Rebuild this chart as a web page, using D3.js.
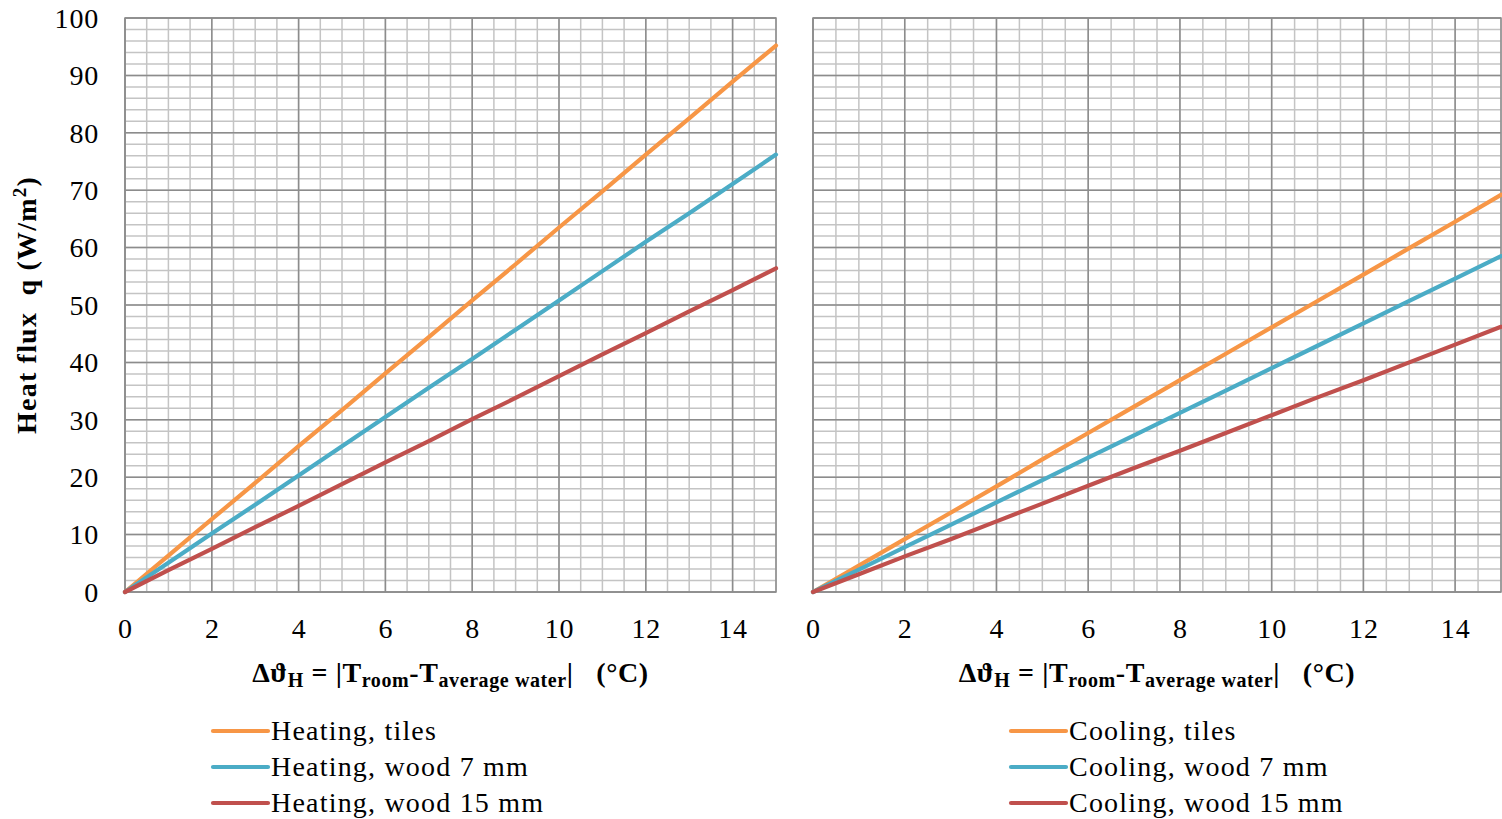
<!DOCTYPE html>
<html>
<head>
<meta charset="utf-8">
<script src="https://cdn.jsdelivr.net/npm/d3@7"></script>
<style>
  html, body { margin: 0; padding: 0; background: #fff; }
  svg { display: block; }
  text { font-family: "Liberation Serif", "DejaVu Serif", serif; fill: #000; }
</style>
</head>
<body>
<svg id="chart" width="1502" height="819"></svg>
<script>
// Temperature difference (°C)
const deltaT = [0, 1, 2, 3, 4, 5, 6, 7, 8, 9, 10, 11, 12, 13, 14, 15];

// Heating heat flux (W/m²)
const heatingTiles  = [0, 6.35, 12.7, 19.0, 25.4, 31.7, 38.1, 44.4, 50.8, 57.1, 63.5, 69.8, 76.2, 82.5, 88.9, 95.2];
const heatingWood7  = [0, 5.1, 10.2, 15.2, 20.3, 25.4, 30.5, 35.6, 40.6, 45.7, 50.8, 55.9, 61.0, 66.0, 71.1, 76.2];
const heatingWood15 = [0, 3.8, 7.5, 11.3, 15.0, 18.8, 22.6, 26.3, 30.1, 33.8, 37.6, 41.4, 45.1, 48.9, 52.6, 56.4];

// Cooling heat flux (W/m²)
const coolingTiles  = [0, 4.6, 9.2, 13.8, 18.4, 23.1, 27.7, 32.3, 36.9, 41.5, 46.1, 50.7, 55.3, 59.9, 64.5, 69.2];
const coolingWood7  = [0, 3.9, 7.8, 11.7, 15.6, 19.5, 23.4, 27.3, 31.2, 35.1, 39.0, 42.9, 46.8, 50.7, 54.6, 58.5];
const coolingWood15 = [0, 3.1, 6.2, 9.2, 12.3, 15.4, 18.5, 21.6, 24.6, 27.7, 30.8, 33.9, 36.9, 40.0, 43.1, 46.2];

const heatingNames = ["Heating, tiles", "Heating, wood 7 mm", "Heating, wood 15 mm"];
const coolingNames = ["Cooling, tiles", "Cooling, wood 7 mm", "Cooling, wood 15 mm"];

const xTicks = [0, 2, 4, 6, 8, 10, 12, 14];
const yTicks = [0, 10, 20, 30, 40, 50, 60, 70, 80, 90, 100];

const colors = ["#F79646", "#4BACC6", "#C0504D"];

const svg = d3.select("#chart");

const plotTop = 18, plotBottom = 592;
const y = d3.scaleLinear().domain([0, 100]).range([plotBottom, plotTop]);

function drawPanel(left, right, seriesList, names, legendX, showYAxis) {
  const x = d3.scaleLinear().domain([0, 15]).range([left, right]);
  const g = svg.append("g");

  // minor grid
  const minorX = d3.range(0, 15.01, 0.5);
  const minorY = d3.range(0, 100.01, 2);
  g.selectAll(".mx").data(minorX).join("line")
    .attr("x1", d => x(d)).attr("x2", d => x(d))
    .attr("y1", plotTop).attr("y2", plotBottom)
    .attr("stroke", "#c4c4c4").attr("stroke-width", 1.5);
  g.selectAll(".my").data(minorY).join("line")
    .attr("x1", left).attr("x2", right)
    .attr("y1", d => y(d)).attr("y2", d => y(d))
    .attr("stroke", "#c4c4c4").attr("stroke-width", 1.5);

  // major grid
  g.selectAll(".Mx").data(d3.range(0, 15.01, 2)).join("line")
    .attr("x1", d => x(d)).attr("x2", d => x(d))
    .attr("y1", plotTop).attr("y2", plotBottom)
    .attr("stroke", "#8c8c8c").attr("stroke-width", 1.5);
  g.selectAll(".My").data(d3.range(0, 100.01, 10)).join("line")
    .attr("x1", left).attr("x2", right)
    .attr("y1", d => y(d)).attr("y2", d => y(d))
    .attr("stroke", "#8c8c8c").attr("stroke-width", 1.5);

  // plot border
  g.append("rect").attr("x", left).attr("y", plotTop)
    .attr("width", right - left).attr("height", plotBottom - plotTop)
    .attr("fill", "none").attr("stroke", "#8c8c8c").attr("stroke-width", 1.5);

  // x axis
  const xAxis = d3.axisBottom(x).tickValues(xTicks).tickSize(0).tickPadding(0).tickFormat(d3.format("d"));
  const xa = g.append("g").attr("transform", `translate(0,${plotBottom})`).call(xAxis);
  xa.select(".domain").remove();
  xa.selectAll("text").attr("dy", null).attr("y", 46)
    .style("font-size", "28px").style("letter-spacing", "0.8px")
    .style("font-family", "'Liberation Serif', serif").attr("fill", "#000");

  if (showYAxis) {
    const yAxis = d3.axisLeft(y).tickValues(yTicks).tickSize(0).tickPadding(0);
    const ya = g.append("g").attr("transform", `translate(${left - 26},0)`).call(yAxis);
    ya.select(".domain").remove();
    ya.selectAll("text").attr("dy", "0.33em")
      .style("font-size", "28px").style("letter-spacing", "0.8px")
      .style("font-family", "'Liberation Serif', serif").attr("fill", "#000");
  }

  // lines
  const line = d3.line().x((d, i) => x(deltaT[i])).y(d => y(d));
  seriesList.forEach((s, i) => {
    g.append("path").datum(s).attr("d", line)
      .attr("fill", "none").attr("stroke", colors[i]).attr("stroke-width", 4.2)
      .attr("stroke-linecap", "round");
  });

  // x axis title
  const t = g.append("text").attr("x", (left + right) / 2).attr("y", 682)
    .attr("text-anchor", "middle").style("font-size", "28px").style("font-weight", "bold")
    .style("letter-spacing", "0.6px");
  t.append("tspan").text("Δϑ");
  t.append("tspan").attr("dy", 5).style("font-size", "20px").text("H");
  t.append("tspan").attr("dy", -5).text(" = |T");
  t.append("tspan").attr("dy", 5).style("font-size", "20px").text("room");
  t.append("tspan").attr("dy", -5).text("-T");
  t.append("tspan").attr("dy", 5).style("font-size", "20px").text("average water");
  t.append("tspan").attr("dy", -5).text("|\u00a0\u00a0\u00a0(°C)");

  // legend
  names.forEach((n, i) => {
    const ly = 731 + i * 36;
    g.append("line").attr("x1", legendX).attr("x2", legendX + 55)
      .attr("y1", ly).attr("y2", ly)
      .attr("stroke", colors[i]).attr("stroke-width", 4.2).attr("stroke-linecap", "round");
    g.append("text").attr("x", legendX + 58).attr("y", ly + 9)
      .style("font-size", "28px").style("letter-spacing", "1.2px").text(n);
  });
}

drawPanel(125, 776, [heatingTiles, heatingWood7, heatingWood15], heatingNames, 213, true);
drawPanel(813, 1501, [coolingTiles, coolingWood7, coolingWood15], coolingNames, 1011, false);

// y axis title
const yt = svg.append("text")
  .attr("transform", `translate(36,${(plotTop + plotBottom) / 2}) rotate(-90)`)
  .attr("text-anchor", "middle").style("font-size", "28px").style("font-weight", "bold")
  .style("letter-spacing", "1.2px");
yt.append("tspan").text("Heat flux\u00a0\u00a0q (W/m");
yt.append("tspan").attr("dy", -10).style("font-size", "19px").text("2");
yt.append("tspan").attr("dy", 10).text(")");
</script>
</body>
</html>
